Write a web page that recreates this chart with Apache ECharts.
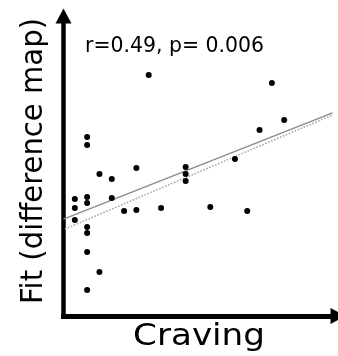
<!DOCTYPE html>
<html><head><meta charset="utf-8">
<script src="https://cdn.jsdelivr.net/npm/echarts@6/dist/echarts.min.js"></script>
<style>html,body{margin:0;padding:0;background:#fff}#c{width:338px;height:356px}</style>
</head><body><div id="c"></div>
<script>
// craving score (x) and fit to difference map (y) for each subject
var craving = [2,2,3,4,6,1,2,2,4,1,5,6,8,1,2,2,2,3,2,7,10,10,10,14,16,12,15,17,18];
var fit = [5.97,5.70,4.73,4.57,4.93,3.90,3.97,3.77,3.93,3.60,3.50,3.53,3.60,3.20,2.97,2.77,2.13,1.47,0.87,8.03,4.97,4.73,4.50,5.23,6.20,3.63,3.50,7.77,6.53];
// regression lines (end points)
var solidFitX = [0.08, 21.93];
var solidFitY = [3.23, 6.77];
var dottedFitX = [0.2, 21.93];
var dottedFitY = [2.9, 6.7];
var statText = 'r=0.49, p= 0.006';
var xName = 'Craving';
var yName = 'Fit (difference map)';

function measure(text, font){
  var c = document.createElement('canvas').getContext('2d');
  c.font = font; return c.measureText(text).width;
}
var chart = echarts.init(document.getElementById('c'), null, {renderer:'canvas'});
var pts = craving.map(function(x,i){return [x, fit[i]];});
var solid = solidFitX.map(function(x,i){return [x, solidFitY[i]];});
var dotted = dottedFitX.map(function(x,i){return [x, dottedFitY[i]];});

var fs = '21px "DejaVu Sans"';
var ss = 179 / measure(statText, fs);
var fx = '30px "DejaVu Sans"';
var sx = 132 / measure(xName, fx);
var fy = '30px "DejaVu Sans"';
var sy = 286 / measure(yName, fy);

chart.setOption({
  animation:false,
  grid:{left:63.5, top:16, right:-3.5, bottom:40, containLabel:false},
  xAxis:{type:'value', min:0.08, max:22.37,
    axisLine:{show:true, symbol:['none','triangle'], symbolSize:[16,15], lineStyle:{color:'#000', width:5, cap:'square'}},
    axisTick:{show:false}, axisLabel:{show:false}, splitLine:{show:false}},
  yAxis:{type:'value', min:0, max:10,
    axisLine:{show:true, symbol:['none','triangle'], symbolSize:[16,15], lineStyle:{color:'#000', width:4.5, cap:'square'}},
    axisTick:{show:false}, axisLabel:{show:false}, splitLine:{show:false}},
  graphic:[
    {type:'text', x:85, y:46.5, scaleX:ss, style:{text:statText, font:fs, fill:'#000', textAlign:'left', textVerticalAlign:'middle'}},
    {type:'text', x:199, y:337, scaleX:sx, style:{text:xName, font:fx, fill:'#000', textAlign:'center', textVerticalAlign:'middle'}},
    {type:'text', x:34, y:161, rotation:Math.PI/2, scaleX:sy, style:{text:yName, font:fy, fill:'#000', textAlign:'center', textVerticalAlign:'middle'}}
  ],
  series:[
    {type:'line', data:solid, showSymbol:false, lineStyle:{color:'#8c8c8c', width:1.5}, z:2},
    {type:'line', data:dotted, showSymbol:false, lineStyle:{color:'#aaaaaa', width:1.6, type:'dotted'}, z:2},
    {type:'scatter', data:pts, symbolSize:6, itemStyle:{color:'#000', opacity:1}, z:3}
  ]
});
</script></body></html>
